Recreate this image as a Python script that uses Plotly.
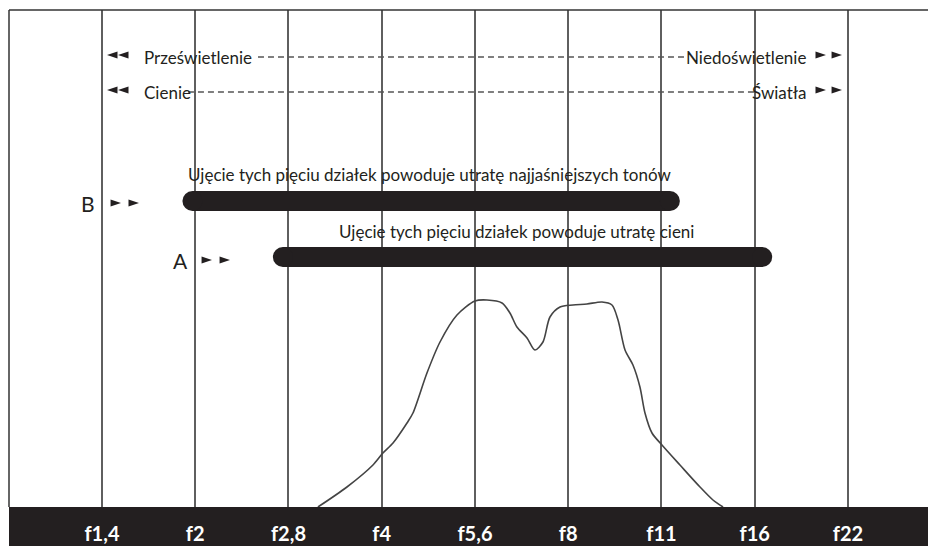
import plotly.graph_objects as go

# ---- data ----
stop_positions = [0, 1, 2, 3, 4, 5, 6, 7, 8]
stop_labels = ["f1,4", "f2", "f2,8", "f4", "f5,6", "f8", "f11", "f16", "f22"]

curve_x = [2.316, 2.627, 2.906, 3.013, 3.121, 3.271, 3.335, 3.485, 3.625, 3.807,
           4.000, 4.129, 4.290, 4.375, 4.450, 4.558, 4.643, 4.729, 4.804, 4.912,
           5.051, 5.201, 5.362, 5.469, 5.534, 5.609, 5.694, 5.769, 5.823, 5.898,
           6.005, 6.198, 6.413, 6.552, 6.660]
curve_y = [0, 20, 42, 54, 64, 84, 94, 134, 165, 192,
           206, 207, 204, 194, 180, 169, 157, 165, 190, 200,
           202, 203, 205, 202, 187, 157, 142, 120, 94, 74,
           62, 42, 20, 7, 0]

bar_B = [0.97, 6.09]
bar_A = [1.94, 7.08]
bar_B_level = 306
bar_A_level = 250

text_B = "Ujęcie tych pięciu działek powoduje utratę najjaśniejszych tonów"
text_A = "Ujęcie tych pięciu działek powoduje utratę cieni"

row1_left, row1_right = "Prześwietlenie", "Niedoświetlenie"
row2_left, row2_right = "Cienie", "Światła"
row1_level, row2_level = 450, 415
row1_dash = [1.673, 6.252]
row2_dash = [0.922, 7.003]

DARK = "#231f20"
GRID = "#5f5f5f"
FONT = "Lato, Roboto, sans-serif"

fig = go.Figure()

# histogram curve
fig.add_trace(go.Scatter(x=curve_x, y=curve_y, mode="lines",
                         line=dict(color="#444444", width=1.6, shape="spline", smoothing=0.8),
                         hoverinfo="skip"))

# dashed guide lines
for xs, lvl in [(row1_dash, row1_level), (row2_dash, row2_level)]:
    fig.add_trace(go.Scatter(x=xs, y=[lvl, lvl], mode="lines",
                             line=dict(color="#555555", width=1.3, dash="6px,4px"),
                             hoverinfo="skip"))

# arrow heads
ARW = dict(symbol="arrow", size=11, color=DARK, line=dict(width=0))
left_arrows_x = [0.054, 0.172]
right_arrows_x = [7.764, 7.936]
for lvl in [row1_level + 2, row2_level + 2]:
    fig.add_trace(go.Scatter(x=left_arrows_x, y=[lvl] * 2, mode="markers",
                             marker=dict(ARW, angle=-90), hoverinfo="skip"))
    fig.add_trace(go.Scatter(x=right_arrows_x, y=[lvl] * 2, mode="markers",
                             marker=dict(ARW, angle=90), hoverinfo="skip"))
fig.add_trace(go.Scatter(x=[0.204, 0.397], y=[bar_B_level - 2] * 2, mode="markers",
                         marker=dict(ARW, angle=90), hoverinfo="skip"))
fig.add_trace(go.Scatter(x=[1.180, 1.373], y=[bar_A_level - 3] * 2, mode="markers",
                         marker=dict(ARW, angle=90), hoverinfo="skip"))

# bars with rounded caps
for xs, lvl in [(bar_B, bar_B_level), (bar_A, bar_A_level)]:
    fig.add_trace(go.Scatter(x=xs, y=[lvl, lvl], mode="lines+markers",
                             line=dict(color=DARK, width=20),
                             marker=dict(symbol="circle", size=20, color=DARK, line=dict(width=0)),
                             hoverinfo="skip"))

ann = []
tf = dict(family=FONT, size=17, color=DARK)
ann.append(dict(x=0.429, y=row1_level, text=row1_left, xanchor="left", yanchor="middle", showarrow=False, font=tf))
ann.append(dict(x=7.571, y=row1_level, text=row1_right, xanchor="right", yanchor="middle", showarrow=False, font=tf))
ann.append(dict(x=0.429, y=row2_level, text=row2_left, xanchor="left", yanchor="middle", showarrow=False, font=tf))
ann.append(dict(x=7.582, y=row2_level, text=row2_right, xanchor="right", yanchor="middle", showarrow=False, font=tf))
ann.append(dict(x=3.507, y=333, text=text_B, xanchor="center", yanchor="middle", showarrow=False, font=tf))
ann.append(dict(x=4.450, y=276, text=text_A, xanchor="center", yanchor="middle", showarrow=False, font=tf))
ann.append(dict(x=-0.15, y=304, text="B", xanchor="center", yanchor="middle", showarrow=False, font=dict(family=FONT, size=21, color=DARK)))
ann.append(dict(x=0.847, y=247, text="A", xanchor="center", yanchor="middle", showarrow=False, font=dict(family=FONT, size=21, color=DARK)))

shapes = [
    dict(type="rect", xref="paper", yref="paper", x0=0, x1=1, y0=-0.1, y1=0,
         fillcolor=DARK, line=dict(width=0), layer="below"),
    dict(type="line", xref="paper", yref="paper", x0=0, x1=1, y0=1, y1=1,
         line=dict(color="#333333", width=1.5)),
    dict(type="line", xref="paper", yref="paper", x0=0, x1=0, y0=0, y1=1,
         line=dict(color="#333333", width=1.5)),
]

fig.update_layout(
    width=928, height=546,
    margin=dict(l=9, r=0, t=10, b=39),
    paper_bgcolor="white", plot_bgcolor="white",
    showlegend=False,
    annotations=ann, shapes=shapes,
    xaxis=dict(range=[-0.997, 8.858], tickvals=stop_positions, ticktext=stop_labels,
               showgrid=True, gridcolor=GRID, gridwidth=1.5, zeroline=False,
               showline=False, ticks="outside", ticklen=9, tickcolor=DARK,
               tickfont=dict(family=FONT, size=20, color="white", weight="bold"), fixedrange=True),
    yaxis=dict(range=[0, 497], showgrid=False, zeroline=False, showticklabels=False,
               showline=False, fixedrange=True),
)

fig.write_html("out.html", config={"displayModeBar": False},
               post_script="document.body.style.margin='0';document.body.style.overflow='hidden';")
